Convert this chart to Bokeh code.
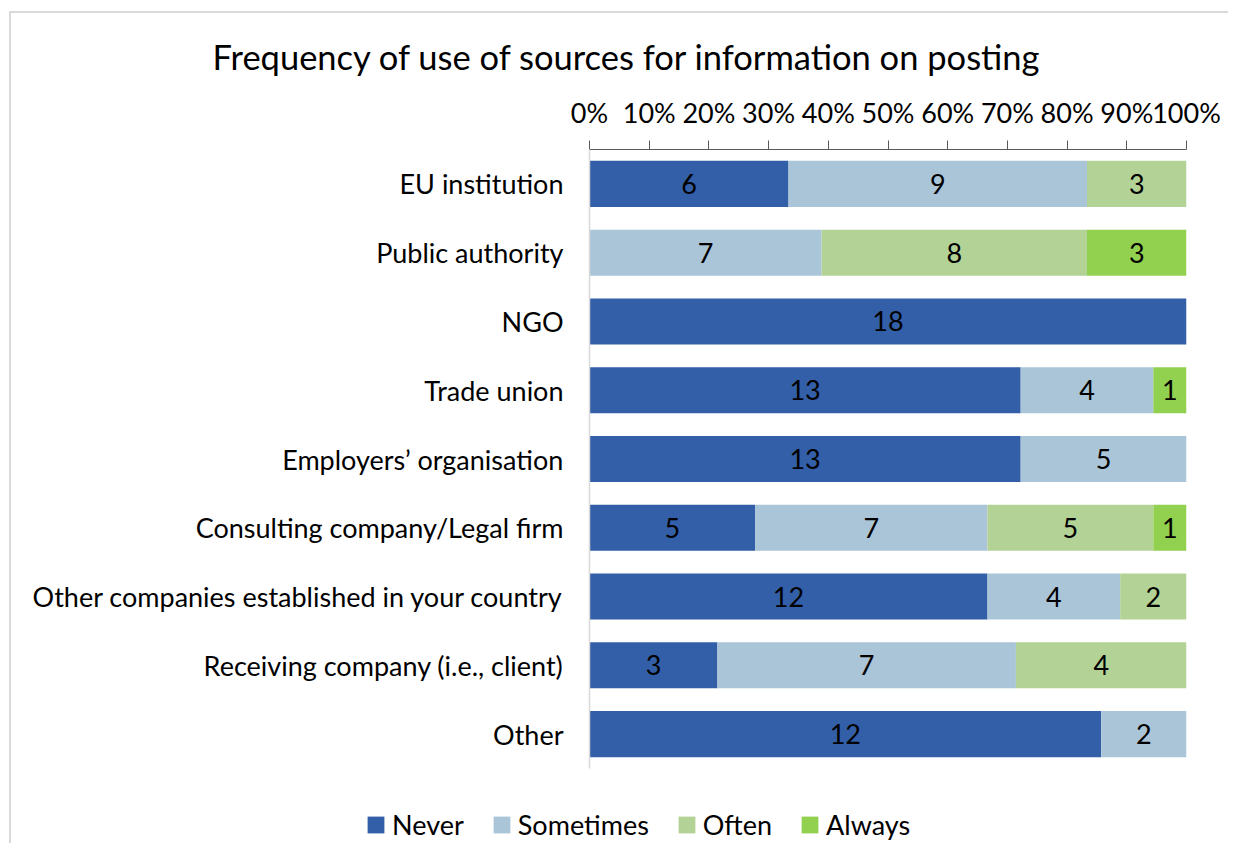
from bokeh.plotting import figure
from bokeh.models import (FactorRange, ColumnDataSource, Legend, LegendItem,
                          NumeralTickFormatter, FixedTicker, Range1d)
from bokeh.layouts import column
from bokeh.core.properties import value
from bokeh.embed import file_html
from bokeh.resources import INLINE

categories = ["EU institution", "Public authority", "NGO", "Trade union",
              "Employers\u2019 organisation", "Consulting company/Legal firm",
              "Other companies established in your country",
              "Receiving company (i.e., client)", "Other"]
never = [6, 0, 18, 13, 13, 5, 12, 3, 12]
sometimes = [9, 7, 0, 4, 5, 7, 4, 7, 2]
often = [3, 8, 0, 0, 0, 5, 2, 4, 0]
always = [0, 3, 0, 1, 0, 1, 0, 0, 0]
series_names = ["Never", "Sometimes", "Often", "Always"]
colors = ["#335FA8", "#AAC5D8", "#B3D296", "#92D050"]
x_ticks = [0, 0.1, 0.2, 0.3, 0.4, 0.5, 0.6, 0.7, 0.8, 0.9, 1.0]
title_text = "Frequency of use of sources for information on posting"

FONT = "Lato"
FS = "27px"
series = [never, sometimes, often, always]
totals = [sum(v) for v in zip(*series)]
data = {"cat": categories}
for name, vals in zip(series_names, series):
    data[name] = [v / t for v, t in zip(vals, totals)]
src = ColumnDataSource(data)

p = figure(width=1228, height=791, output_backend="svg", toolbar_location=None,
           y_range=FactorRange(factors=list(reversed(categories))),
           x_range=Range1d(0, 1), x_axis_location="above",
           min_border_left=589, min_border_top=149, min_border_bottom=23,
           min_border_right=42)
p.outline_line_color = None
p.background_fill_color = None
p.border_fill_color = None
p.xgrid.grid_line_color = None
p.ygrid.grid_line_color = None

p.hbar_stack(series_names, y="cat", height=0.67, color=colors,
             line_color=None, source=src)

# labels
lx, ly, lt = [], [], []
for i, cat in enumerate(categories):
    left = 0.0
    for vals in series:
        frac = vals[i] / totals[i]
        if vals[i] > 0:
            lx.append(left + frac / 2)
            ly.append(cat)
            lt.append(str(vals[i]))
        left += frac
p.text(x=lx, y=ly, text=lt, text_align="center", text_baseline="middle",
       text_font=value(FONT), text_font_size=FS, text_color="black")

xa = p.xaxis[0]
xa.ticker = FixedTicker(ticks=x_ticks)
xa.formatter = NumeralTickFormatter(format="0%")
xa.major_label_text_font = FONT
xa.major_label_text_font_size = FS
xa.major_label_text_color = "black"
xa.axis_line_color = "#595959"
xa.major_tick_line_color = "#595959"
xa.major_tick_out = 9
xa.major_tick_in = 0
xa.minor_tick_line_color = None
xa.major_label_standoff = 12

ya = p.yaxis[0]
ya.axis_line_color = "#d9d9d9"
ya.axis_line_width = 1.5
ya.major_tick_line_color = None
ya.minor_tick_line_color = None
ya.major_label_text_font = FONT
ya.major_label_text_font_size = FS
ya.major_label_text_color = "black"
ya.major_label_standoff = 20

p.title.text = title_text
p.title.text_font = FONT
p.title.text_font_size = "34.5px"
p.title.text_font_style = "normal"
p.title.text_color = "black"
p.title.align = "left"
p.title.offset = -377
p.title.standoff = 31

# legend in a separate strip below the chart
lg = figure(width=1228, height=52, output_backend="svg", toolbar_location=None,
            x_range=Range1d(0, 1), y_range=Range1d(0, 1),
            min_border_left=0, min_border_right=0, min_border_top=0,
            min_border_bottom=0)
lg.frame_align = False
lg.axis.visible = False
lg.grid.visible = False
lg.outline_line_color = None
lg.background_fill_color = None
lg.border_fill_color = None
keys = [lg.quad(left=[2], right=[3], bottom=[2], top=[3], color=c, line_color=None)
        for c in colors]
items = [LegendItem(label=n, renderers=[r]) for n, r in zip(series_names, keys)]
legend = Legend(items=items, orientation="horizontal", location=(365, 2),
                label_text_font=FONT, label_text_font_size=FS,
                label_text_color="black", glyph_width=21, glyph_height=21,
                label_height=30, spacing=27, label_standoff=6,
                border_line_color=None, background_fill_alpha=0,
                padding=0, margin=0)
lg.add_layout(legend, "center")

layout = column(p, lg, spacing=0)
layout.styles = {
    "background": "linear-gradient(#d9d9d9, #d9d9d9) 9px 11px / 2px 100% no-repeat, "
                  "linear-gradient(#d9d9d9, #d9d9d9) 9px 11px / 100% 2px no-repeat, white"
}

open("out.html", "w").write(file_html(layout, INLINE))
